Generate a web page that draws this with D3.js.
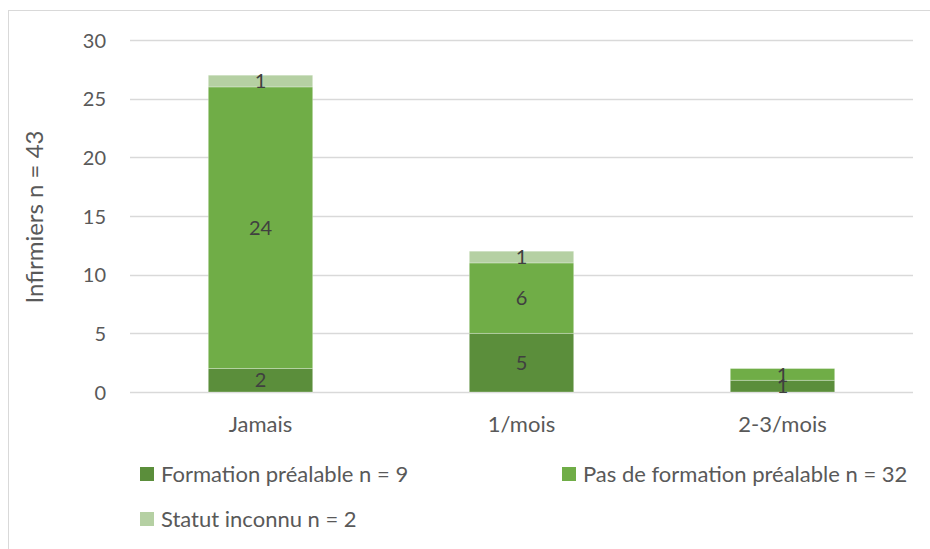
<!DOCTYPE html>
<html>
<head>
<meta charset="utf-8">
<script src="https://cdn.jsdelivr.net/npm/d3@7"></script>
<style>
  html, body { margin: 0; padding: 0; background: #fff; }
  svg text { font-family: Lato, "Open Sans", sans-serif; }
</style>
</head>
<body>
<svg id="chart" width="930" height="549"></svg>
<script>
// Frequency categories and counts per training status
const categories = ["Jamais", "1/mois", "2-3/mois"];
const formation = [2, 5, 1];
const pasFormation = [24, 6, 1];
const inconnu = [1, 1, 0];
const seriesNames = ["Formation préalable n = 9", "Pas de formation préalable n = 32", "Statut inconnu n = 2"];
const seriesColors = ["#5B8E3B", "#70AD47", "#B5D0A3"];
const yTicks = [0, 5, 10, 15, 20, 25, 30];
const yTitle = "Infirmiers n = 43";

const svg = d3.select("#chart");
const W = 930, H = 549;
const plot = { left: 130, right: 913, top: 40, bottom: 392 };
const textColor = "#595959";

// Outer chart frame
svg.append("rect")
  .attr("x", 8.5).attr("y", 10.5)
  .attr("width", W + 10).attr("height", H + 10)
  .attr("fill", "none").attr("stroke", "#d9d9d9").attr("stroke-width", 1);

const x = d3.scaleBand().domain(categories).range([plot.left, plot.right]).paddingInner(0.6).paddingOuter(0.3);
const y = d3.scaleLinear().domain([0, 30]).range([plot.bottom, plot.top]);

// Gridlines
svg.append("g").selectAll("line").data(yTicks).join("line")
  .attr("x1", plot.left).attr("x2", plot.right)
  .attr("y1", d => Math.round(y(d)) + 0.5).attr("y2", d => Math.round(y(d)) + 0.5)
  .attr("stroke", "#d9d9d9").attr("stroke-width", 1.3);

// Y axis labels
const yAxis = d3.axisLeft(y).tickValues(yTicks).tickSize(0).tickPadding(0);
const gy = svg.append("g").attr("transform", `translate(${plot.left - 24},0)`).call(yAxis);
gy.select(".domain").remove();
gy.selectAll("text").attr("fill", textColor).style("font-size", "20px").attr("dy", "0.36em");

// Y axis title
svg.append("text")
  .attr("transform", `translate(43,${(plot.top + plot.bottom) / 2 + 1}) rotate(-90)`)
  .attr("text-anchor", "middle")
  .attr("fill", textColor).style("font-size", "24px")
  .text(yTitle);

// Stacked data
const rows = categories.map((c, i) => ({ cat: c, s0: formation[i], s1: pasFormation[i], s2: inconnu[i] }));
const stack = d3.stack().keys(["s0", "s1", "s2"])(rows);

const layers = svg.append("g").selectAll("g").data(stack).join("g")
  .attr("fill", (d, i) => seriesColors[i]);

layers.selectAll("rect").data(d => d.filter(p => p[1] - p[0] > 0)).join("rect")
  .attr("x", d => x(d.data.cat))
  .attr("width", x.bandwidth())
  .attr("y", d => y(d[1]))
  .attr("height", d => y(d[0]) - y(d[1]))
  .attr("stroke", "rgba(255,255,255,0.35)").attr("stroke-width", 0.8);

// Value labels centred in each segment
const labels = svg.append("g");
stack.forEach(layer => {
  layer.forEach(p => {
    const v = p[1] - p[0];
    if (v <= 0) return;
    labels.append("text")
      .attr("x", x(p.data.cat) + x.bandwidth() / 2)
      .attr("y", (y(p[0]) + y(p[1])) / 2)
      .attr("dy", "0.36em")
      .attr("text-anchor", "middle")
      .attr("fill", "#404040").style("font-size", "20px")
      .text(v);
  });
});

// Category labels
svg.append("g").selectAll("text").data(categories).join("text")
  .attr("x", d => x(d) + x.bandwidth() / 2)
  .attr("y", 432)
  .attr("text-anchor", "middle")
  .attr("fill", textColor).style("font-size", "22px")
  .text(d => d);

// Legend
const legendPos = [[140, 474], [562, 474], [140, 519]];
const lg = svg.append("g").selectAll("g").data(seriesNames).join("g")
  .attr("transform", (d, i) => `translate(${legendPos[i][0]},${legendPos[i][1]})`);
lg.append("rect").attr("x", 0).attr("y", -7).attr("width", 14).attr("height", 14)
  .attr("fill", (d, i) => seriesColors[i]);
lg.append("text").attr("x", 21).attr("y", 0).attr("dy", "0.36em")
  .attr("fill", textColor).style("font-size", "22px")
  .text(d => d);
</script>
</body>
</html>
